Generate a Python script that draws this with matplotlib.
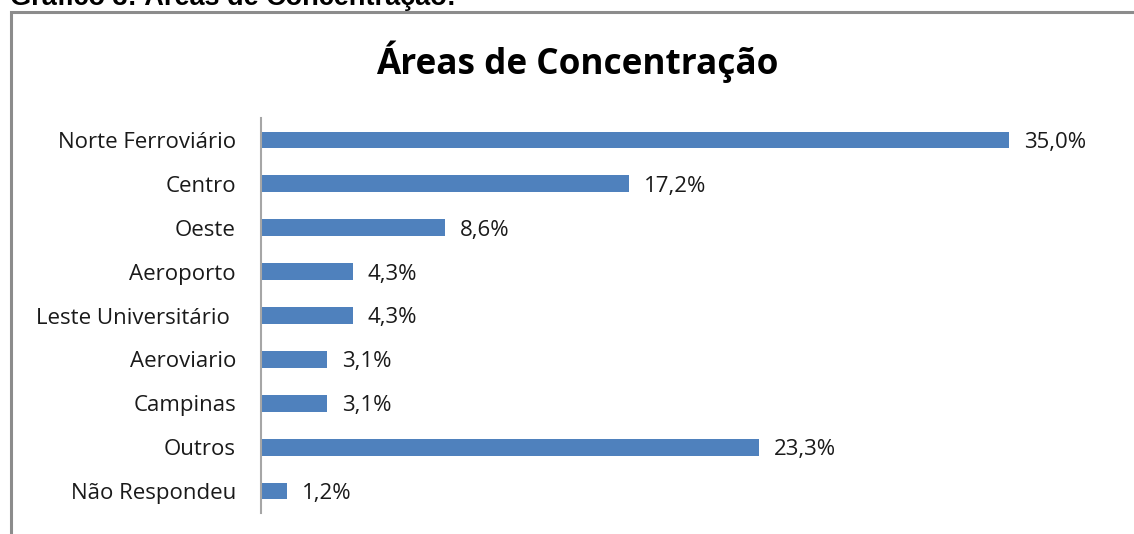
import matplotlib.pyplot as plt
from matplotlib.patches import Rectangle

plt.rcParams['font.family'] = ['Open Sans', 'DejaVu Sans']

categories = ["Norte Ferroviário", "Centro", "Oeste", "Aeroporto", "Leste Universitário ",
              "Aeroviario", "Campinas", "Outros", "Não Respondeu"]
values = [35.0, 17.2, 8.6, 4.3, 4.3, 3.1, 3.1, 23.3, 1.2]
labels = ["35,0%", "17,2%", "8,6%", "4,3%", "4,3%", "3,1%", "3,1%", "23,3%", "1,2%"]

fig = plt.figure(figsize=(11.34, 5.34), dpi=100)

# outer frame of the chart area (runs off the right and bottom edges)
frame = Rectangle((11 / 1134, -0.05), 1.2, 1 - 12 / 534 + 0.05, transform=fig.transFigure,
                  fill=False, edgecolor='#8c8c8c', linewidth=2.2, clip_on=False)
fig.patches.append(frame)

# heading of the document, cut off at the top
fig.text(10 / 1134, 1 - 5 / 534, "Gráfico 3: Áreas de Concentração:", fontsize=19.5,
         fontweight='bold', ha='left', va='baseline', family=['Liberation Sans'])

fig.text(577 / 1134, 1 - 62 / 534, "Áreas de Concentração", fontsize=25.3,
         fontweight='bold', ha='center', va='center')

ax = fig.add_axes([261 / 1134, 1 - 513 / 534, (1116 - 261) / 1134, 395 / 534])
pos = list(range(len(categories)))
ax.barh(pos, values, height=0.38, color='#4f81bd')
ax.set_ylim(len(categories) - 0.5, -0.5)
ax.set_xlim(0, 40)
ax.set_yticks(pos)
ax.set_yticklabels(categories, fontsize=16, color='#1a1a1a')
ax.tick_params(axis='y', length=0, pad=18)
ax.set_xticks([])
for s in ['top', 'right', 'bottom']:
    ax.spines[s].set_visible(False)
ax.spines['left'].set_color('#a6a6a6')
ax.spines['left'].set_linewidth(1.5)

for p, v, t in zip(pos, values, labels):
    ax.text(v + 0.7, p, t, va='center_baseline', ha='left', fontsize=16, color='#1a1a1a')

fig.savefig('out.png', dpi=100)
